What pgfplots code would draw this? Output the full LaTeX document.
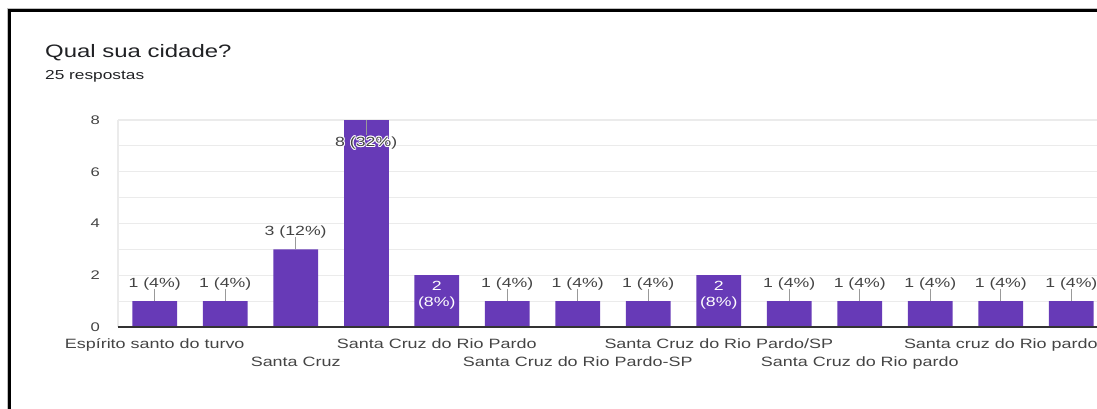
\documentclass[border=0pt]{standalone}
\usepackage{fontspec}
\setmainfont{Liberation Sans}[FakeStretch=1.33]
\usepackage{pgfplots}
\pgfplotsset{compat=1.18}
\usepackage{pgfplotstable}

\definecolor{barpurple}{HTML}{673AB7}
\definecolor{txt}{HTML}{444444}
\definecolor{titletxt}{HTML}{202124}
\definecolor{gridgray}{HTML}{EBEBEB}
\definecolor{basegray}{HTML}{333333}
\definecolor{leader}{HTML}{999999}

\newcommand\titlefont{\fontsize{18}{22}\selectfont}
\newcommand\subfont{\fontsize{13}{16}\selectfont}
\newcommand\catfont{\fontsize{13.5}{16}\selectfont}
\newcommand\valfont{\fontsize{13.3}{15.7}\selectfont}
\newcommand\tickfont{\fontsize{12.5}{15}\selectfont}

% simple white halo around a text
\newcommand\hl[3]{\rlap{\kern#1\raisebox{#2}{\color{white}#3}}}
\newcommand\halo[1]{\leavevmode
  \hl{0.8pt}{0pt}{#1}\hl{-0.8pt}{0pt}{#1}\hl{0pt}{0.8pt}{#1}\hl{0pt}{-0.8pt}{#1}%
  \hl{0.6pt}{0.6pt}{#1}\hl{-0.6pt}{0.6pt}{#1}\hl{0.6pt}{-0.6pt}{#1}\hl{-0.6pt}{-0.6pt}{#1}#1}

% value labels above the bar (value, percent, leader length)
\pgfplotstableread{
x y p e
0 1 4 0.48
1 1 4 0.48
2 3 12 0.48
5 1 4 0.48
6 1 4 0.48
7 1 4 0.48
9 1 4 0.48
10 1 4 0.48
11 1 4 0.48
12 1 4 0.48
13 1 4 0.48
}\tabA
% value labels inside the bar, two lines
\pgfplotstableread{
x y p
4 2 8
8 2 8
}\tabB
% tallest bar
\pgfplotstableread{
x y p e
3 8 32 0.57
}\tabC

\begin{document}
\begin{tikzpicture}
\path[use as bounding box] (0pt,0pt) rectangle (1097pt,409pt);
\clip (0pt,0pt) rectangle (1097pt,409pt);
% frame
\draw[gray!50, line width=1pt] (7pt,-5pt) -- (7pt,400.6pt) -- (1110pt,400.6pt);
\draw[black, line width=3pt] (9pt,-5pt) -- (9pt,398.5pt) -- (1110pt,398.5pt);
% titles
\node[anchor=base west, inner sep=0pt, text=titletxt, font=\titlefont] at (45pt,351pt) {Qual sua cidade?};
\node[anchor=base west, inner sep=0pt, text=titletxt, font=\subfont] at (45pt,329pt) {25 respostas};

\begin{axis}[
  at={(118pt,82pt)}, anchor=south west,
  scale only axis, width=990pt, height=207pt,
  xmin=-0.52, xmax=13.52, ymin=0, ymax=8,
  axis line style={draw=none},
  xtick=\empty,
  ytick={0,2,4,6,8}, minor ytick={1,3,5,7},
  ymajorgrids, yminorgrids,
  major grid style={gridgray, line width=1.2pt},
  minor grid style={gridgray, line width=1.2pt},
  tick style={draw=none},
  /pgf/number format/assume math mode=true,
  yticklabel style={font=\tickfont, text=txt, anchor=east, inner sep=0pt, xshift=-18pt},
  clip=false,
]
\draw[gridgray, line width=1.2pt] (rel axis cs:0,0) -- (rel axis cs:0,1);

\addplot[ybar, bar width=44.7pt, bar shift=0pt, fill=barpurple, draw=none,
  point meta=y,
  visualization depends on={y \as \yv},
  visualization depends on={\thisrow{p} \as \pct},
  nodes near coords={\pgfmathprintnumber{\yv} (\pgfmathprintnumber{\pct}\%)},
  every node near coord/.append style={font=\valfont, text=txt, inner sep=0pt, text depth=0pt, yshift=13.7pt},
  error bars/.cd, y dir=plus, y explicit, error mark=none,
  error bar style={leader, line width=1pt}]
  table[x=x, y=y, y error=e] {\tabA};

\addplot[ybar, bar width=44.7pt, bar shift=0pt, fill=barpurple, draw=none,
  point meta=y,
  visualization depends on={y \as \yv},
  visualization depends on={\thisrow{p} \as \pct},
  nodes near coords={\pgfmathprintnumber{\yv}\\(\pgfmathprintnumber{\pct}\%)},
  every node near coord/.append style={font=\valfont, text=white, align=center, inner sep=0pt, text depth=0pt, yshift=-31.4pt}]
  table[x=x, y=y] {\tabB};

\addplot[ybar, bar width=44.7pt, bar shift=0pt, fill=barpurple, draw=none,
  point meta=y,
  visualization depends on={y \as \yv},
  visualization depends on={\thisrow{p} \as \pct},
  nodes near coords={\halo{\pgfmathprintnumber{\yv} (\pgfmathprintnumber{\pct}\%)}},
  every node near coord/.append style={font=\valfont, text=txt, inner sep=0pt, text depth=0pt, yshift=-26.7pt},
  error bars/.cd, y dir=minus, y explicit, error mark=none,
  error bar style={leader, line width=1pt}]
  table[x=x, y=y, y error=e] {\tabC};

\draw[basegray, line width=1.3pt] (rel axis cs:0,0) -- (rel axis cs:1,0);

% category labels (alternating rows, odd ones hidden as in the original)
\begin{scope}[every node/.style={anchor=base, inner sep=0pt, font=\catfont, text=txt}]
\node at (axis cs:0,0) [yshift=-21.3pt] {Espírito santo do turvo};
\node at (axis cs:2,0) [yshift=-39.7pt] {Santa Cruz};
\node at (axis cs:4,0) [yshift=-21.3pt] {Santa Cruz do Rio Pardo};
\node at (axis cs:6,0) [yshift=-39.7pt] {Santa Cruz do Rio Pardo-SP};
\node at (axis cs:8,0) [yshift=-21.3pt] {Santa Cruz do Rio Pardo/SP};
\node at (axis cs:10,0) [yshift=-39.7pt] {Santa Cruz do Rio pardo};
\node at (axis cs:12,0) [yshift=-21.3pt] {Santa cruz do Rio pardo};
\end{scope}
\end{axis}
\end{tikzpicture}
\end{document}
